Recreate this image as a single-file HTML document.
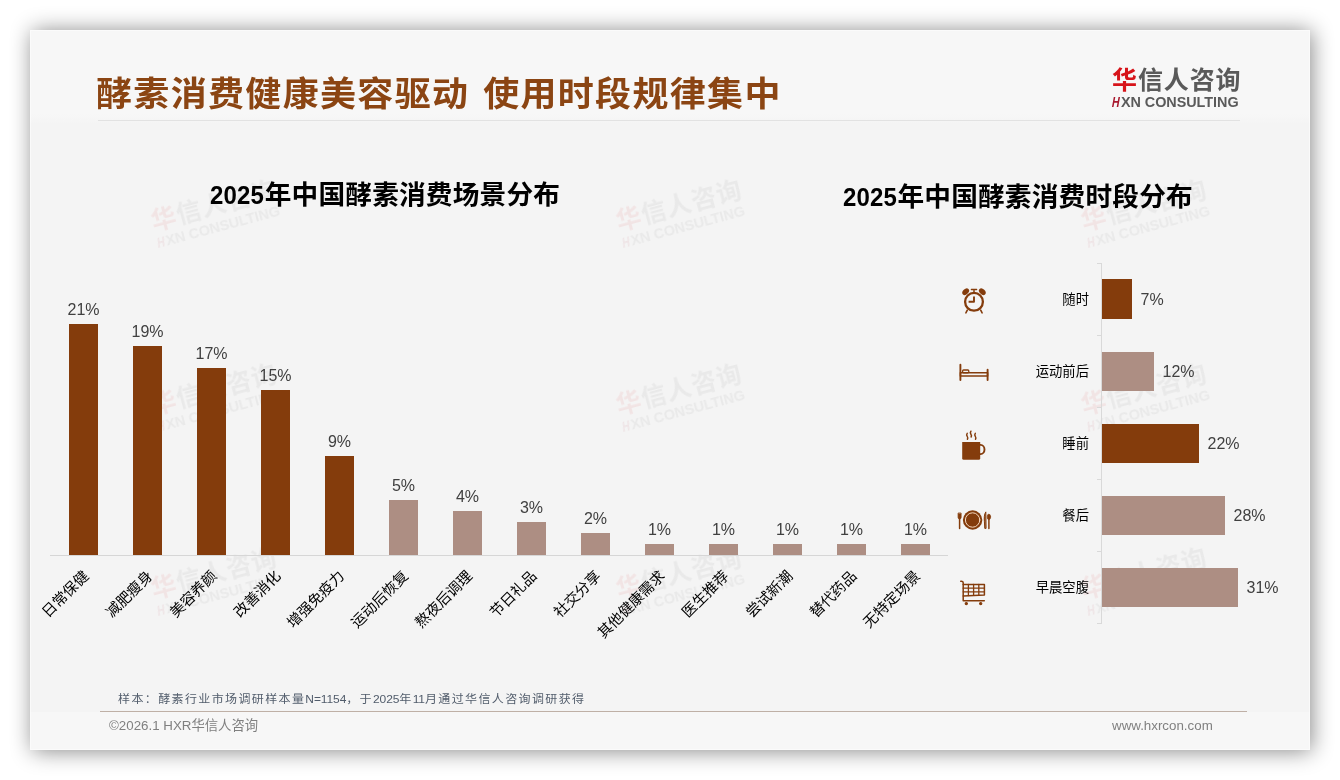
<!DOCTYPE html>
<html lang="zh-CN"><head><meta charset="utf-8"><title>酵素消费健康美容驱动 使用时段规律集中</title>
<style>
html,body{margin:0;padding:0;}
body{width:1340px;height:780px;background:#fff;position:relative;overflow:hidden;font-family:"Liberation Sans","Noto Sans CJK SC",sans-serif;}
.slide{position:absolute;left:30px;top:30px;width:1280px;height:720px;background:#f4f4f4;box-shadow:1.5px 1px 21px rgba(0,0,0,.48);}
.hd{position:absolute;left:30px;top:30px;width:1280px;height:94px;background:linear-gradient(#f7f7f7 0,#f7f7f7 84px,#f4f4f4 94px);}
.ft{position:absolute;left:30px;top:712px;width:1280px;height:38px;background:#f7f7f7;}
.edge{position:absolute;left:30px;top:30px;width:1278px;height:718px;border:1px solid rgba(255,255,255,.55);}
.hline{position:absolute;left:98px;top:120px;width:1142px;height:1px;background:#e2e2e2;}
.fline{position:absolute;left:100px;top:711px;width:1147px;height:1px;background:#bfb0a6;}
.title{position:absolute;left:96px;top:68px;word-spacing:2.5px;letter-spacing:1.33px;font-size:36px;line-height:54px;font-weight:bold;transform:scaleY(.94);transform-origin:0 25px;color:#8B4513;white-space:nowrap;}
.ct{position:absolute;top:174px;letter-spacing:.2px;font-size:26.67px;line-height:40px;font-weight:bold;color:#000;white-space:nowrap;}
.dg{display:inline-block;transform:scaleX(.9);transform-origin:0 50%;margin-right:-5.2px;}
.vb{position:absolute;width:29px;}
.vl{position:absolute;width:69px;text-align:center;font-size:16px;line-height:20px;color:#404040;}
.cl{position:absolute;font-size:14.67px;line-height:18px;color:#000;white-space:nowrap;transform-origin:100% 0;transform:rotate(-45deg);}
.ax{position:absolute;left:50px;top:555px;width:898px;height:1px;background:#d6d6d6;}
.ay{position:absolute;left:1101px;top:263px;width:1px;height:361px;background:#d9d9d9;}
.tk{position:absolute;left:1097px;width:4px;height:1px;background:#d9d9d9;}
.hb{position:absolute;left:1102px;height:40px;}
.hl{position:absolute;right:251px;font-size:13.33px;line-height:22px;color:#000;white-space:nowrap;}
.hv{position:absolute;font-size:16px;line-height:22px;color:#404040;}
.note{position:absolute;left:118px;top:690px;font-size:12px;line-height:18px;color:#515c6b;letter-spacing:1.38px;white-space:nowrap;transform:scaleY(.93);transform-origin:0 55%;}
.en{letter-spacing:-.1px;font-size:12px;}
.cp{position:absolute;left:109px;top:716px;font-size:13.33px;line-height:20px;color:#808080;white-space:nowrap;}
.url{position:absolute;left:1112px;top:716px;font-size:13.33px;line-height:20px;color:#808080;white-space:nowrap;}
.logo{position:absolute;left:1112px;top:63px;white-space:nowrap;}
.l1{position:relative;top:2px;font-size:25px;line-height:30px;font-weight:700;letter-spacing:.9px;color:#5a5a5a;}
.l1 .r{color:#d7141a;font-weight:bold;}
.l2{font-size:14.4px;line-height:15px;font-weight:bold;color:#5a5a5a;letter-spacing:-.03px;margin-top:2px;}
.hh{display:inline-block;width:8.9px;color:#a8182e;transform:scaleX(.74) skewX(-14deg);transform-origin:0 50%;}
.wm{position:absolute;opacity:.068;filter:blur(.55px);transform-origin:64.5px 23.5px;transform:rotate(-15deg);white-space:nowrap;}
.ic{position:absolute;left:958px;width:32px;height:32px;}
</style></head><body>
<div class="slide"></div><div class="hd"></div><div class="ft"></div><div class="edge"></div>
<div class="hline"></div><div class="fline"></div>
<div class="wm" style="left:151.1px;top:188.1px"><div class="l1"><span class="r">华</span>信人咨询</div><div class="l2"><span class="hh">H</span>XN CONSULTING</div></div>
<div class="wm" style="left:151.1px;top:371.5px"><div class="l1"><span class="r">华</span>信人咨询</div><div class="l2"><span class="hh">H</span>XN CONSULTING</div></div>
<div class="wm" style="left:151.1px;top:555.7px"><div class="l1"><span class="r">华</span>信人咨询</div><div class="l2"><span class="hh">H</span>XN CONSULTING</div></div>
<div class="wm" style="left:616.1px;top:188.1px"><div class="l1"><span class="r">华</span>信人咨询</div><div class="l2"><span class="hh">H</span>XN CONSULTING</div></div>
<div class="wm" style="left:616.1px;top:371.5px"><div class="l1"><span class="r">华</span>信人咨询</div><div class="l2"><span class="hh">H</span>XN CONSULTING</div></div>
<div class="wm" style="left:616.1px;top:555.7px"><div class="l1"><span class="r">华</span>信人咨询</div><div class="l2"><span class="hh">H</span>XN CONSULTING</div></div>
<div class="wm" style="left:1081.1px;top:188.1px"><div class="l1"><span class="r">华</span>信人咨询</div><div class="l2"><span class="hh">H</span>XN CONSULTING</div></div>
<div class="wm" style="left:1081.1px;top:371.5px"><div class="l1"><span class="r">华</span>信人咨询</div><div class="l2"><span class="hh">H</span>XN CONSULTING</div></div>
<div class="wm" style="left:1081.1px;top:555.7px"><div class="l1"><span class="r">华</span>信人咨询</div><div class="l2"><span class="hh">H</span>XN CONSULTING</div></div>

<div class="title">酵素消费健康美容驱动 使用时段规律集中</div>
<div class="logo"><div class="l1"><span class="r">华</span>信人咨询</div><div class="l2"><span class="hh">H</span>XN CONSULTING</div></div>
<div class="ct" style="left:209.8px;top:175px"><span class="dg">2025</span>年中国酵素消费场景分布</div>
<div class="ct" style="left:842.5px;top:177px"><span class="dg">2025</span>年中国酵素消费时段分布</div>
<div class="ax"></div>
<div class="vb" style="left:69px;top:324px;height:231px;background:#843C0C"></div>
<div class="vl" style="left:49px;top:300px">21%</div>
<div class="cl" style="right:1260.3px;top:566.5px">日常保健</div>
<div class="vb" style="left:133px;top:346px;height:209px;background:#843C0C"></div>
<div class="vl" style="left:113px;top:322px">19%</div>
<div class="cl" style="right:1196.3px;top:566.5px">减肥瘦身</div>
<div class="vb" style="left:197px;top:368px;height:187px;background:#843C0C"></div>
<div class="vl" style="left:177px;top:344px">17%</div>
<div class="cl" style="right:1132.3px;top:566.5px">美容养颜</div>
<div class="vb" style="left:261px;top:390px;height:165px;background:#843C0C"></div>
<div class="vl" style="left:241px;top:366px">15%</div>
<div class="cl" style="right:1068.3px;top:566.5px">改善消化</div>
<div class="vb" style="left:325px;top:456px;height:99px;background:#843C0C"></div>
<div class="vl" style="left:305px;top:432px">9%</div>
<div class="cl" style="right:1004.3px;top:566.5px">增强免疫力</div>
<div class="vb" style="left:389px;top:500px;height:55px;background:#AD8E83"></div>
<div class="vl" style="left:369px;top:476px">5%</div>
<div class="cl" style="right:940.3px;top:566.5px">运动后恢复</div>
<div class="vb" style="left:453px;top:511px;height:44px;background:#AD8E83"></div>
<div class="vl" style="left:433px;top:487px">4%</div>
<div class="cl" style="right:876.3px;top:566.5px">熬夜后调理</div>
<div class="vb" style="left:517px;top:522px;height:33px;background:#AD8E83"></div>
<div class="vl" style="left:497px;top:498px">3%</div>
<div class="cl" style="right:812.3px;top:566.5px">节日礼品</div>
<div class="vb" style="left:581px;top:533px;height:22px;background:#AD8E83"></div>
<div class="vl" style="left:561px;top:509px">2%</div>
<div class="cl" style="right:748.3px;top:566.5px">社交分享</div>
<div class="vb" style="left:645px;top:544px;height:11px;background:#AD8E83"></div>
<div class="vl" style="left:625px;top:520px">1%</div>
<div class="cl" style="right:684.3px;top:566.5px">其他健康需求</div>
<div class="vb" style="left:709px;top:544px;height:11px;background:#AD8E83"></div>
<div class="vl" style="left:689px;top:520px">1%</div>
<div class="cl" style="right:620.3px;top:566.5px">医生推荐</div>
<div class="vb" style="left:773px;top:544px;height:11px;background:#AD8E83"></div>
<div class="vl" style="left:753px;top:520px">1%</div>
<div class="cl" style="right:556.3px;top:566.5px">尝试新潮</div>
<div class="vb" style="left:837px;top:544px;height:11px;background:#AD8E83"></div>
<div class="vl" style="left:817px;top:520px">1%</div>
<div class="cl" style="right:492.29999999999995px;top:566.5px">替代药品</div>
<div class="vb" style="left:901px;top:544px;height:11px;background:#AD8E83"></div>
<div class="vl" style="left:881px;top:520px">1%</div>
<div class="cl" style="right:428.29999999999995px;top:566.5px">无特定场景</div>

<div class="ay"></div><div class="tk" style="top:263px"></div><div class="tk" style="top:335px"></div><div class="tk" style="top:407px"></div><div class="tk" style="top:479px"></div><div class="tk" style="top:551px"></div><div class="tk" style="top:623px"></div>
<div class="hb" style="top:279px;height:40px;width:30px;background:#843C0C"></div>
<div class="hl" style="top:289px">随时</div>
<div class="hv" style="left:1140.5px;top:289px">7%</div>
<div class="hb" style="top:352px;height:39px;width:52px;background:#AD8E83"></div>
<div class="hl" style="top:361px">运动前后</div>
<div class="hv" style="left:1162.5px;top:361px">12%</div>
<div class="hb" style="top:424px;height:39px;width:97px;background:#843C0C"></div>
<div class="hl" style="top:433px">睡前</div>
<div class="hv" style="left:1207.5px;top:433px">22%</div>
<div class="hb" style="top:496px;height:39px;width:123px;background:#AD8E83"></div>
<div class="hl" style="top:505px">餐后</div>
<div class="hv" style="left:1233.5px;top:505px">28%</div>
<div class="hb" style="top:568px;height:39px;width:136px;background:#AD8E83"></div>
<div class="hl" style="top:577px">早晨空腹</div>
<div class="hv" style="left:1246.5px;top:577px">31%</div>

<svg class="icons" width="60" height="360" viewBox="945 270 60 360" style="position:absolute;left:945px;top:270px" fill="none" stroke="#843C0C" stroke-linecap="round" stroke-linejoin="round">
<!-- alarm clock -->
<g>
<circle cx="974" cy="301.8" r="8.9" stroke-width="2.3"/>
<path d="M974 296.6V301.8H968.6" stroke-width="1.9" stroke-linecap="butt"/>
<path d="M971.4 289.5H976.6M974 289.5V292" stroke-width="1.4"/>
<path d="M967.3 310.2L965.9 312.8M980.7 310.2L982.1 312.8" stroke-width="1.6"/>
<ellipse cx="965.7" cy="291.7" rx="3.9" ry="2.7" transform="rotate(-45 965.7 291.7)" fill="#843C0C" stroke="none"/>
<ellipse cx="982.3" cy="291.7" rx="3.9" ry="2.7" transform="rotate(45 982.3 291.7)" fill="#843C0C" stroke="none"/>
</g>
<!-- bed -->
<g stroke-width="1.6">
<path d="M960.4 364.8V380M987.6 369.8V380" stroke-width="1.9"/>
<rect x="960.4" y="372.8" width="27.2" height="3.1" stroke-width="1.5"/>
<rect x="962.6" y="370" width="6.2" height="2.8" rx="1" stroke-width="1.3"/>
</g>
<!-- mug -->
<g>
<path d="M962.2 441.9H980.2V458.3a1.5 1.5 0 0 1 -1.5 1.5H963.7a1.5 1.5 0 0 1 -1.5 -1.5z" fill="#843C0C" stroke="none"/>
<path d="M980 444.9h.6a3.9 4.6 0 0 1 0 9.2h-.6" stroke-width="1.9"/>
<path d="M967.2 433.4q-1.1 1.5 0 3t.2 2.8M970.9 431.2q-1.1 1.5 0 3t.2 2.8M975.3 433.4q-1.1 1.5 0 3t.2 2.8" stroke-width="1.5"/>
</g>
<!-- plate -->
<g>
<circle cx="972.6" cy="520" r="9.7" fill="#843C0C" stroke="none"/>
<circle cx="972.6" cy="520" r="7.2" stroke="#f6d9c0" stroke-width="1"/>
<path d="M959.6 519V528.4" stroke-width="1.5"/>
<path d="M958.1 513.4V517.4a1.5 1.6 0 0 0 3 0V513.4z" fill="#843C0C" stroke-width=".8"/>
<path d="M985.6 512.2c-1.4 2 -1.6 6 -1.2 9.5l.4 6.7h.9z" fill="#843C0C" stroke-width="1"/>
<ellipse cx="988.9" cy="516.9" rx="1.7" ry="2.8" fill="#843C0C" stroke-width=".6"/>
<path d="M988.9 519V528.4" stroke-width="1.5"/>
</g>
<!-- cart -->
<g stroke-width="1.5">
<path d="M960.8 581.3c1.6 -.2 2.4 .3 2.4 1.8V600.7H984.3"/>
<path d="M963.2 584.4H984.4V594.9L963.2 596" />
<path d="M963.2 588.2H984.4M963.2 591.8H984.4M968.4 584.4V595.6M973.6 584.4V595.4M978.8 584.4V595.1" stroke-width="1.3"/>
<circle cx="966.3" cy="603.6" r="1.1" fill="#843C0C" stroke-width="1.2"/>
<circle cx="980.7" cy="603.6" r="1.1" fill="#843C0C" stroke-width="1.2"/>
</g>
</svg>

<div class="note">样本：酵素行业市场调研样本量<span class="en">N=1154</span>，于<span class="en">2025</span>年<span class="en">11</span>月通过华信人咨询调研获得</div>
<div class="cp">©2026.1 HXR华信人咨询</div>
<div class="url">www.hxrcon.com</div>
</body></html>
